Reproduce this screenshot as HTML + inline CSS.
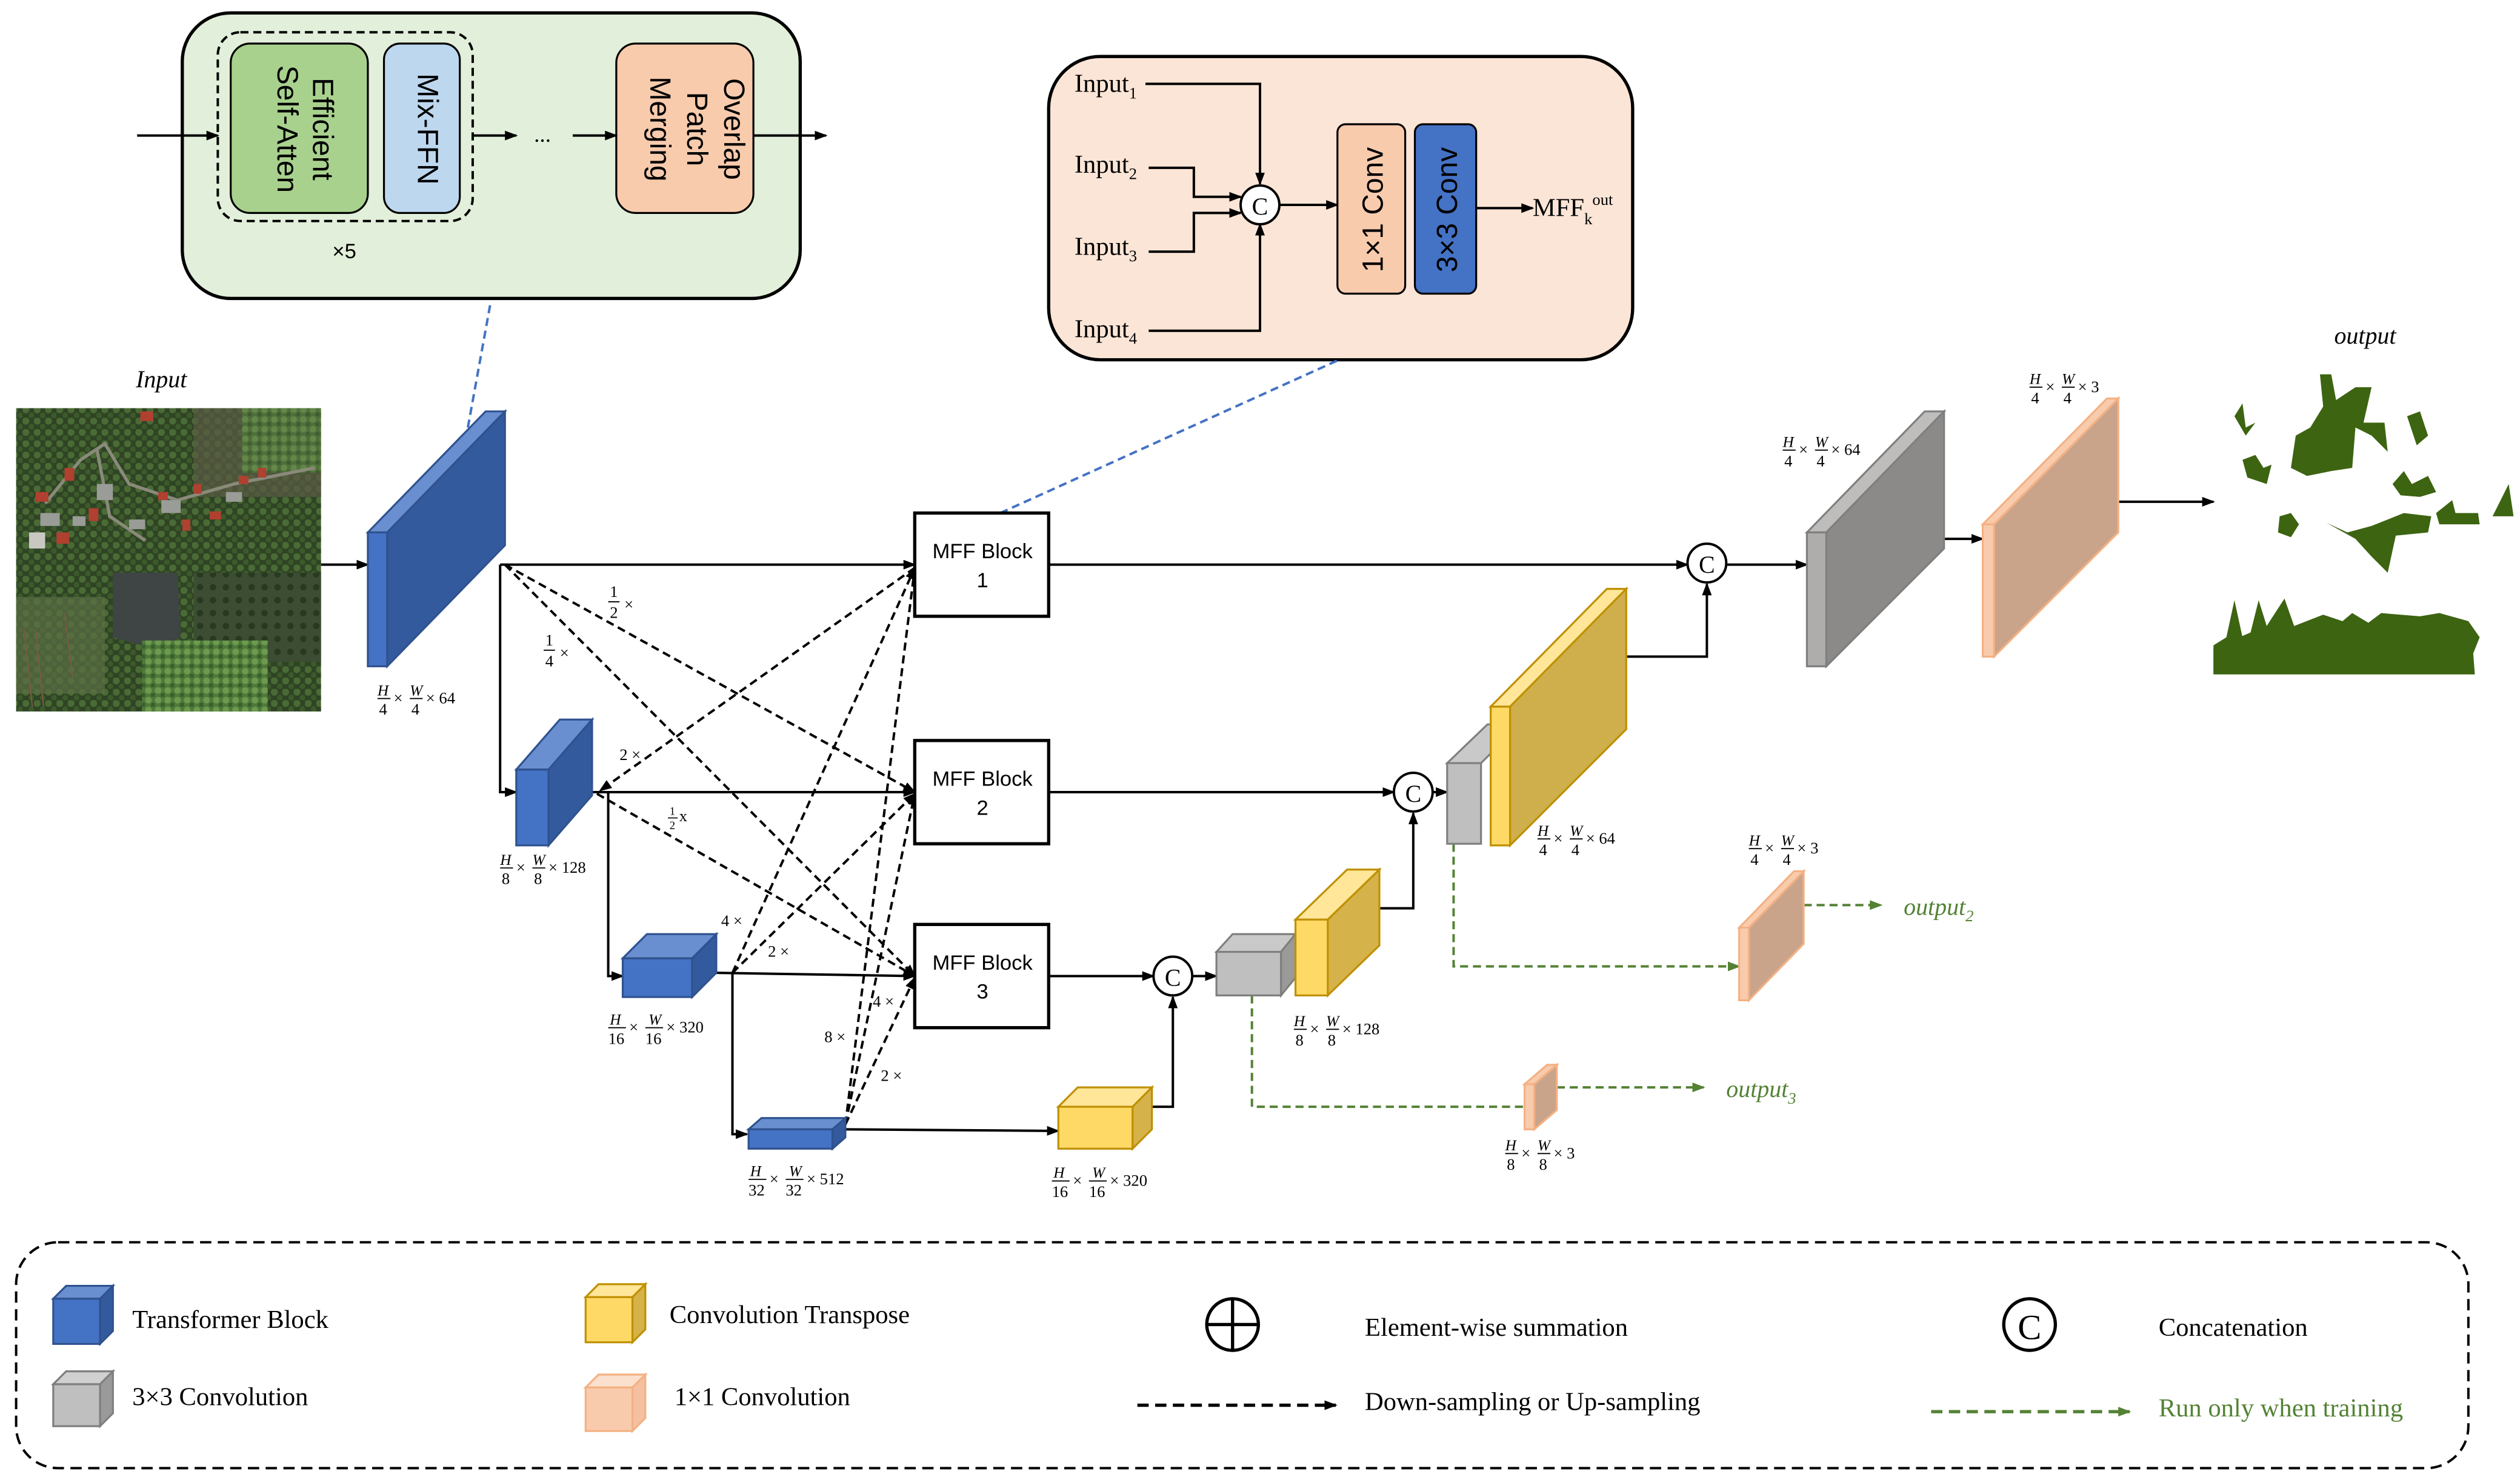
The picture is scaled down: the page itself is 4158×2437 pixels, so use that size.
<!DOCTYPE html>
<html><head><meta charset="utf-8"><style>
html,body{margin:0;padding:0;background:#fff}
svg{display:block}
text{font-family:"Liberation Serif",serif}
.s{font-family:"Liberation Sans",sans-serif}
.f{font-size:9.5px;font-style:italic}
</style></head><body>
<svg width="4158" height="2437" viewBox="0 0 1562 915.5" preserveAspectRatio="none" xmlns="http://www.w3.org/2000/svg">
<defs>
<marker id="a" markerWidth="8" markerHeight="8" refX="7" refY="4" orient="auto" markerUnits="userSpaceOnUse"><path d="M0,1 L8,4 L0,7 z" fill="#000"/></marker>
<marker id="g" markerWidth="8" markerHeight="8" refX="7" refY="4" orient="auto" markerUnits="userSpaceOnUse"><path d="M0,1 L8,4 L0,7 z" fill="#548235"/></marker>
<pattern id="tr" width="7" height="7" patternUnits="userSpaceOnUse"><rect width="7" height="7" fill="#2f4424"/><circle cx="2" cy="2" r="2.2" fill="#4a6b35"/><circle cx="5.5" cy="5.5" r="1.8" fill="#3c5a2b"/></pattern>
<pattern id="tr2" width="6" height="6" patternUnits="userSpaceOnUse"><rect width="6" height="6" fill="#4d7a3a"/><circle cx="2" cy="2" r="2" fill="#6d9a4e"/><circle cx="5" cy="5" r="1.5" fill="#3a5e2a"/></pattern>
<pattern id="or" width="8" height="8" patternUnits="userSpaceOnUse"><rect width="8" height="8" fill="#3c4d33"/><circle cx="4" cy="4" r="2" fill="#27391f"/></pattern>
</defs>

<!-- top Segformer box -->
<rect x="113" y="8" width="383" height="177" rx="30" fill="#e2efda" stroke="#000" stroke-width="2"/>
<rect x="135" y="20" width="158" height="117" rx="14" fill="none" stroke="#000" stroke-width="1.5" stroke-dasharray="5,3"/>
<rect x="143" y="27" width="85" height="105" rx="12" fill="#a9d18e" stroke="#000" stroke-width="1.2"/>
<rect x="238" y="27" width="47" height="105" rx="10" fill="#bdd7ee" stroke="#000" stroke-width="1.2"/>
<rect x="382" y="27" width="85" height="105" rx="12" fill="#f8cbad" stroke="#000" stroke-width="1.2"/>
<g class="s" font-size="18" text-anchor="middle">
<text transform="translate(190,80) rotate(90)" class="s" y="-4">Efficient</text>
<text transform="translate(168,80) rotate(90)" class="s" y="-4">Self-Atten</text>
<text transform="translate(255,80) rotate(90)" class="s" y="-4">Mix-FFN</text>
<text transform="translate(445,80) rotate(90)" class="s" y="-4">Overlap</text>
<text transform="translate(422,80) rotate(90)" class="s" y="-4">Patch</text>
<text transform="translate(399,80) rotate(90)" class="s" y="-4">Merging</text>
</g>
<g stroke="#000" stroke-width="1.5" marker-end="url(#a)">
<line x1="85" y1="84" x2="135" y2="84"/><line x1="293" y1="84" x2="320" y2="84"/><line x1="355" y1="84" x2="382" y2="84"/><line x1="467" y1="84" x2="512" y2="84"/>
</g>
<text x="331" y="88" font-size="14">...</text>
<text x="206" y="160" font-size="13" class="s">×5</text>

<!-- MFF detail box -->
<rect x="650" y="35" width="362" height="188" rx="32" fill="#fbe5d6" stroke="#000" stroke-width="2"/>
<g font-size="16">
<text x="666" y="57">Input<tspan font-size="10" dy="4">1</tspan></text>
<text x="666" y="107">Input<tspan font-size="10" dy="4">2</tspan></text>
<text x="666" y="158">Input<tspan font-size="10" dy="4">3</tspan></text>
<text x="666" y="209">Input<tspan font-size="10" dy="4">4</tspan></text>
<text x="950" y="134">MFF<tspan font-size="10" dy="5">k</tspan><tspan font-size="10" dy="-12">out</tspan></text>
</g>
<g stroke="#000" stroke-width="1.5" fill="none">
<polyline points="710,52 781,52 781,114" marker-end="url(#a)"/>
<polyline points="712,104 740,104 740,122 769,122" marker-end="url(#a)"/>
<polyline points="712,156 740,156 740,132 769,132" marker-end="url(#a)"/>
<polyline points="712,205 781,205 781,139" marker-end="url(#a)"/>
<line x1="793" y1="127" x2="829" y2="127" marker-end="url(#a)"/>
<line x1="915" y1="129" x2="950" y2="129" marker-end="url(#a)"/>
</g>
<circle cx="781" cy="127" r="12" fill="#fff" stroke="#000" stroke-width="1.5"/>
<text x="781" y="133" font-size="15" text-anchor="middle">C</text>
<rect x="829" y="77" width="42" height="105" rx="5" fill="#f8cbad" stroke="#000" stroke-width="1.2"/>
<rect x="877" y="77" width="38" height="105" rx="5" fill="#4472c4" stroke="#000" stroke-width="1.2"/>
<text transform="translate(850,130) rotate(-90)" text-anchor="middle" class="s" font-size="18" y="7">1×1 Conv</text>
<text transform="translate(896,130) rotate(-90)" text-anchor="middle" class="s" font-size="18" y="7">3×3 Conv</text>

<!-- blue dashed links -->
<line x1="290" y1="265" x2="304" y2="188" stroke="#4472c4" stroke-width="1.5" stroke-dasharray="5,3"/>
<line x1="620" y1="318" x2="830" y2="223" stroke="#4472c4" stroke-width="1.5" stroke-dasharray="5,3"/>

<!-- input image -->
<rect x="10" y="253" width="189" height="188" fill="url(#tr)"/>
<rect x="120" y="253" width="79" height="55" fill="#5a5a44" opacity="0.7"/>
<rect x="150" y="253" width="49" height="40" fill="url(#tr2)" opacity="0.7"/>
<rect x="10" y="370" width="55" height="60" fill="#5a6e45" opacity="0.7"/>
<rect x="120" y="355" width="79" height="55" fill="url(#or)"/>
<path d="M70,355 L110,355 L112,395 L95,402 L70,395 Z" fill="#3e4544"/>
<rect x="88" y="397" width="78" height="44" fill="url(#tr2)"/>
<g fill="none" stroke="#8a8a7a" stroke-width="2"><path d="M28,312 L50,285 L65,275 L80,300 L110,310 L145,300 L195,290"/><path d="M60,278 L68,320 L90,335"/></g>
<g fill="#b04030"><rect x="22" y="305" width="8" height="6"/><rect x="40" y="290" width="6" height="8"/><rect x="87" y="255" width="8" height="6"/><rect x="148" y="295" width="6" height="5"/><rect x="130" y="317" width="7" height="5"/><rect x="160" y="290" width="5" height="6"/><rect x="55" y="315" width="6" height="8"/><rect x="35" y="330" width="8" height="7"/><rect x="113" y="322" width="5" height="7"/><rect x="98" y="305" width="6" height="5"/><rect x="120" y="300" width="5" height="6"/></g>
<g fill="#9a9c98"><rect x="25" y="318" width="12" height="8"/><rect x="60" y="300" width="10" height="10"/><rect x="100" y="310" width="12" height="8"/><rect x="140" y="305" width="10" height="6"/><rect x="80" y="322" width="10" height="6"/><rect x="18" y="330" width="10" height="10" fill="#c8c8c0"/><rect x="45" y="320" width="8" height="6"/></g>
<g stroke="#7a5a45" stroke-width="0.8"><line x1="15" y1="390" x2="20" y2="438"/><line x1="22" y1="390" x2="27" y2="438"/><line x1="40" y1="380" x2="45" y2="420"/></g>
<text x="100" y="240" font-size="15" font-style="italic" text-anchor="middle">Input</text>

<!-- output image -->
<g fill="#3d6411">
<path d="M1372,418 L1372,402 L1395,392 L1400,372 L1405,388 L1416,371 L1422,388 L1440,381 L1452,385 L1458,380 L1468,386 L1476,380 L1500,382 L1512,380 L1530,385 L1537,395 L1533,405 L1534,418 Z"/>
<path d="M1438,232 L1445,232 L1448,248 L1460,240 L1470,240 L1465,262 L1478,262 L1480,280 L1470,270 L1460,265 L1458,290 L1445,292 L1430,295 L1420,290 L1423,270 L1432,265 L1440,252 Z"/>
<path d="M1385,258 L1390,250 L1392,265 L1398,262 L1392,270 Z"/>
<path d="M1390,285 L1398,282 L1403,290 L1408,288 L1405,300 L1393,296 Z"/>
<path d="M1483,300 L1490,292 L1495,300 L1505,295 L1510,305 L1500,308 L1488,307 Z"/>
<path d="M1510,318 L1520,310 L1522,318 L1536,318 L1537,325 L1512,325 Z"/>
<path d="M1545,320 L1555,300 L1558,320 Z"/>
<path d="M1413,320 L1420,318 L1425,325 L1420,333 L1412,330 Z"/>
<path d="M1442,324 L1455,330 L1470,326 L1490,318 L1507,320 L1505,330 L1485,332 L1480,355 L1470,345 L1460,334 Z"/>
<path d="M1492,258 L1500,255 L1505,270 L1498,276 Z"/>
<path d="M1372,418 L1372,400 L1380,395 L1385,372 L1390,395 Z"/>
</g>
<text x="1466" y="213" font-size="15" font-style="italic" text-anchor="middle">output</text>

<!-- solid connectors -->
<g stroke="#000" stroke-width="1.5" fill="none">
<line x1="199" y1="350" x2="228" y2="350" marker-end="url(#a)"/>
<line x1="310" y1="350" x2="567" y2="350" marker-end="url(#a)"/>
<polyline points="310,350 310,491 320,491" marker-end="url(#a)"/>
<line x1="367" y1="491" x2="567" y2="491" marker-end="url(#a)"/>
<polyline points="377,491 377,605 386,605" marker-end="url(#a)"/>
<line x1="444" y1="603" x2="567" y2="605" marker-end="url(#a)"/>
<polyline points="454,603 454,703 463,703" marker-end="url(#a)"/>
<line x1="524" y1="700" x2="656" y2="701" marker-end="url(#a)"/>
<line x1="650" y1="350" x2="1046" y2="350" marker-end="url(#a)"/>
<line x1="1070" y1="350" x2="1120" y2="350" marker-end="url(#a)"/>
<polyline points="1008,407 1058,407 1058,362" marker-end="url(#a)"/>
<line x1="650" y1="491" x2="864" y2="491" marker-end="url(#a)"/>
<line x1="888" y1="491" x2="897" y2="491" marker-end="url(#a)"/>
<polyline points="855,563 876,563 876,504" marker-end="url(#a)"/>
<line x1="650" y1="605" x2="715" y2="605" marker-end="url(#a)"/>
<line x1="739" y1="605" x2="754" y2="605" marker-end="url(#a)"/>
<polyline points="714,686 727,686 727,618" marker-end="url(#a)"/>
<line x1="1205" y1="334" x2="1229" y2="334" marker-end="url(#a)"/>
<line x1="1313" y1="311" x2="1372" y2="311" marker-end="url(#a)"/>
</g>

<!-- dashed black -->
<g stroke="#000" stroke-width="1.5" fill="none" stroke-dasharray="5,3" marker-end="url(#a)">
<line x1="313" y1="350" x2="567" y2="491"/>
<line x1="313" y1="350" x2="567" y2="605"/>
<line x1="567" y1="352" x2="372" y2="490"/>
<line x1="370" y1="492" x2="567" y2="605"/>
<line x1="454" y1="603" x2="567" y2="352"/>
<line x1="454" y1="603" x2="567" y2="492"/>
<line x1="524" y1="697" x2="567" y2="352"/>
<line x1="524" y1="697" x2="567" y2="492"/>
<line x1="524" y1="697" x2="567" y2="606"/>
</g>
<g font-size="10">
<text x="378" y="370">1</text><line x1="377" y1="373" x2="384" y2="373" stroke="#000" stroke-width="0.7"/><text x="378" y="383">2</text><text x="387" y="378">×</text>
<text x="338" y="400">1</text><line x1="337" y1="403" x2="344" y2="403" stroke="#000" stroke-width="0.7"/><text x="338" y="413">4</text><text x="347" y="408">×</text>
<text x="384" y="471">2 ×</text>
<text x="415" y="505" font-size="7">1</text><line x1="414" y1="507" x2="420" y2="507" stroke="#000" stroke-width="0.6"/><text x="415" y="514" font-size="7">2</text><text x="421" y="509">x</text>
<text x="447" y="574">4 ×</text>
<text x="476" y="593">2 ×</text>
<text x="541" y="624">4 ×</text>
<text x="511" y="646">8 ×</text>
<text x="546" y="670">2 ×</text>
</g>

<!-- green dashed -->
<g stroke="#548235" stroke-width="1.5" fill="none" stroke-dasharray="5,3">
<polyline points="901,523 901,599 1078,599" marker-end="url(#g)"/>
<line x1="1118" y1="561" x2="1166" y2="561" marker-end="url(#g)"/>
<polyline points="776,617 776,686 945,686"/>
<line x1="965" y1="674" x2="1056" y2="674" marker-end="url(#g)"/>
</g>
<text x="1180" y="567" font-size="15" font-style="italic" fill="#548235">output<tspan font-size="10" dy="4">2</tspan></text>
<text x="1070" y="680" font-size="15" font-style="italic" fill="#548235">output<tspan font-size="10" dy="4">3</tspan></text>

<!-- shapes -->
<g stroke-width="1.2">
<g stroke="#2f528f"><polygon points="228,330 301,255 313,255 240,330" fill="#6a8fd0"/><polygon points="240,330 313,255 313,338 240,413" fill="#345a9e"/><rect x="228" y="330" width="12" height="83" fill="#4472c4"/></g>
<g stroke="#2f528f"><polygon points="320,477 347,446 367,446 340,477" fill="#6a8fd0"/><polygon points="340,477 367,446 367,493 340,524" fill="#345a9e"/><rect x="320" y="477" width="20" height="47" fill="#4472c4"/></g>
<g stroke="#2f528f"><polygon points="386,594 401,579 444,579 429,594" fill="#6a8fd0"/><polygon points="429,594 444,579 444,603 429,618" fill="#345a9e"/><rect x="386" y="594" width="43" height="24" fill="#4472c4"/></g>
<g stroke="#2f528f"><polygon points="464,700 472,693 524,693 516,700" fill="#6a8fd0"/><polygon points="516,700 524,693 524,705 516,712" fill="#345a9e"/><rect x="464" y="700" width="52" height="12" fill="#4472c4"/></g>
<g stroke="#bf9000"><polygon points="656,686 668,674 714,674 702,686" fill="#ffe699"/><polygon points="702,686 714,674 714,700 702,712" fill="#d6b24a"/><rect x="656" y="686" width="46" height="26" fill="#ffd966"/></g>
<g stroke="#7f7f7f"><polygon points="754,590 764,579 803,579 794,590" fill="#c9c9c9"/><polygon points="794,590 803,579 803,606 794,617" fill="#9a9a9a"/><rect x="754" y="590" width="40" height="27" fill="#bfbfbf"/></g>
<g stroke="#bf9000"><polygon points="803,570 835,539 855,539 823,570" fill="#ffe699"/><polygon points="823,570 855,539 855,586 823,617" fill="#d6b24a"/><rect x="803" y="570" width="20" height="47" fill="#ffd966"/></g>
<g stroke="#7f7f7f"><polygon points="897,473 922,449 942,449 918,473" fill="#c9c9c9"/><rect x="897" y="473" width="21" height="50" fill="#bfbfbf"/></g>
<g stroke="#bf9000"><polygon points="924,438 996,365 1008,365 936,438" fill="#ffe699"/><polygon points="936,438 1008,365 1008,452 936,524" fill="#cfae4c"/><rect x="924" y="438" width="12" height="86" fill="#ffd966"/></g>
<g stroke="#7f7f7f"><polygon points="1120,330 1193,255 1205,255 1132,330" fill="#bfbdbb"/><polygon points="1132,330 1205,255 1205,340 1132,413" fill="#8c8a88"/><rect x="1120" y="330" width="12" height="83" fill="#afadab"/></g>
<g stroke="#f4b183"><polygon points="1229,325 1306,247 1313,247 1236,325" fill="#f8cbad"/><polygon points="1236,325 1313,247 1313,330 1236,407" fill="#c9a48b"/><rect x="1229" y="325" width="7" height="82" fill="#f8cbad"/></g>
<g stroke="#f4b183"><polygon points="1078,575 1112,540 1118,540 1084,575" fill="#f8cbad"/><polygon points="1084,575 1118,540 1118,585 1084,620" fill="#c9a48b"/><rect x="1078" y="575" width="6" height="45" fill="#f8cbad"/></g>
<g stroke="#f4b183"><polygon points="945,672 959,660 965,660 951,672" fill="#f8cbad"/><polygon points="951,672 965,660 965,688 951,700" fill="#c9a48b"/><rect x="945" y="672" width="6" height="28" fill="#f8cbad"/></g>
</g>

<!-- MFF blocks -->
<g stroke="#000" stroke-width="2" fill="#fff">
<rect x="567" y="318" width="83" height="64"/><rect x="567" y="459" width="83" height="64"/><rect x="567" y="573" width="83" height="64"/>
</g>
<g class="s" font-size="13" text-anchor="middle">
<text x="609" y="346" class="s">MFF Block</text><text x="609" y="364" class="s">1</text>
<text x="609" y="487" class="s">MFF Block</text><text x="609" y="505" class="s">2</text>
<text x="609" y="601" class="s">MFF Block</text><text x="609" y="619" class="s">3</text>
</g>

<g fill="#fff" stroke="#000" stroke-width="1.5"><circle cx="1058" cy="349" r="12"/><circle cx="876" cy="491" r="12"/><circle cx="727" cy="605" r="12"/></g>
<g font-size="15" text-anchor="middle"><text x="1058" y="355">C</text><text x="876" y="497">C</text><text x="727" y="611">C</text></g>

<!-- dimension labels -->
<g font-size="10">
<g transform="translate(234,433)"><text class="f" x="0" y="-2">H</text><line x1="0" x2="8" stroke="#000" stroke-width="0.7"/><text x="1" y="10">4</text><text x="10" y="3">×</text><text class="f" x="20" y="-2">W</text><line x1="20" x2="28" stroke="#000" stroke-width="0.7"/><text x="21" y="10">4</text><text x="30" y="3">× 64</text></g>
<g transform="translate(310,538)"><text class="f" x="0" y="-2">H</text><line x1="0" x2="8" stroke="#000" stroke-width="0.7"/><text x="1" y="10">8</text><text x="10" y="3">×</text><text class="f" x="20" y="-2">W</text><line x1="20" x2="28" stroke="#000" stroke-width="0.7"/><text x="21" y="10">8</text><text x="30" y="3">× 128</text></g>
<g transform="translate(377,637)"><text class="f" x="1" y="-2">H</text><line x1="0" x2="11" stroke="#000" stroke-width="0.7"/><text x="0" y="10">16</text><text x="13" y="3">×</text><text class="f" x="25" y="-2">W</text><line x1="23" x2="34" stroke="#000" stroke-width="0.7"/><text x="23" y="10">16</text><text x="36" y="3">× 320</text></g>
<g transform="translate(464,731)"><text class="f" x="1" y="-2">H</text><line x1="0" x2="11" stroke="#000" stroke-width="0.7"/><text x="0" y="10">32</text><text x="13" y="3">×</text><text class="f" x="25" y="-2">W</text><line x1="23" x2="34" stroke="#000" stroke-width="0.7"/><text x="23" y="10">32</text><text x="36" y="3">× 512</text></g>
<g transform="translate(652,732)"><text class="f" x="1" y="-2">H</text><line x1="0" x2="11" stroke="#000" stroke-width="0.7"/><text x="0" y="10">16</text><text x="13" y="3">×</text><text class="f" x="25" y="-2">W</text><line x1="23" x2="34" stroke="#000" stroke-width="0.7"/><text x="23" y="10">16</text><text x="36" y="3">× 320</text></g>
<g transform="translate(802,638)"><text class="f" x="0" y="-2">H</text><line x1="0" x2="8" stroke="#000" stroke-width="0.7"/><text x="1" y="10">8</text><text x="10" y="3">×</text><text class="f" x="20" y="-2">W</text><line x1="20" x2="28" stroke="#000" stroke-width="0.7"/><text x="21" y="10">8</text><text x="30" y="3">× 128</text></g>
<g transform="translate(953,520)"><text class="f" x="0" y="-2">H</text><line x1="0" x2="8" stroke="#000" stroke-width="0.7"/><text x="1" y="10">4</text><text x="10" y="3">×</text><text class="f" x="20" y="-2">W</text><line x1="20" x2="28" stroke="#000" stroke-width="0.7"/><text x="21" y="10">4</text><text x="30" y="3">× 64</text></g>
<g transform="translate(1084,526)"><text class="f" x="0" y="-2">H</text><line x1="0" x2="8" stroke="#000" stroke-width="0.7"/><text x="1" y="10">4</text><text x="10" y="3">×</text><text class="f" x="20" y="-2">W</text><line x1="20" x2="28" stroke="#000" stroke-width="0.7"/><text x="21" y="10">4</text><text x="30" y="3">× 3</text></g>
<g transform="translate(933,715)"><text class="f" x="0" y="-2">H</text><line x1="0" x2="8" stroke="#000" stroke-width="0.7"/><text x="1" y="10">8</text><text x="10" y="3">×</text><text class="f" x="20" y="-2">W</text><line x1="20" x2="28" stroke="#000" stroke-width="0.7"/><text x="21" y="10">8</text><text x="30" y="3">× 3</text></g>
<g transform="translate(1105,279)"><text class="f" x="0" y="-2">H</text><line x1="0" x2="8" stroke="#000" stroke-width="0.7"/><text x="1" y="10">4</text><text x="10" y="3">×</text><text class="f" x="20" y="-2">W</text><line x1="20" x2="28" stroke="#000" stroke-width="0.7"/><text x="21" y="10">4</text><text x="30" y="3">× 64</text></g>
<g transform="translate(1258,240)"><text class="f" x="0" y="-2">H</text><line x1="0" x2="8" stroke="#000" stroke-width="0.7"/><text x="1" y="10">4</text><text x="10" y="3">×</text><text class="f" x="20" y="-2">W</text><line x1="20" x2="28" stroke="#000" stroke-width="0.7"/><text x="21" y="10">4</text><text x="30" y="3">× 3</text></g>
</g>

<!-- legend -->
<rect x="10" y="770" width="1520" height="140" rx="26" fill="none" stroke="#000" stroke-width="1.5" stroke-dasharray="7,4"/>
<g stroke-width="1.2">
<g stroke="#2f528f"><polygon points="33,805 41,797 70,797 62,805" fill="#6a8fd0"/><polygon points="62,805 70,797 70,825 62,833" fill="#345a9e"/><rect x="33" y="805" width="29" height="28" fill="#4472c4"/></g>
<g stroke="#7f7f7f"><polygon points="33,858 41,850 70,850 62,858" fill="#d0d0d0"/><polygon points="62,858 70,850 70,876 62,884" fill="#9a9a9a"/><rect x="33" y="858" width="29" height="26" fill="#bfbfbf"/></g>
<g stroke="#bf9000"><polygon points="363,804 371,796 400,796 392,804" fill="#ffe699"/><polygon points="392,804 400,796 400,824 392,832" fill="#d6b24a"/><rect x="363" y="804" width="29" height="28" fill="#ffd966"/></g>
<g stroke="#f4b183"><polygon points="363,860 371,852 400,852 392,860" fill="#fbe0cd"/><polygon points="392,860 400,852 400,879 392,887" fill="#f4c0a0"/><rect x="363" y="860" width="29" height="27" fill="#f8cbad"/></g>
</g>
<g font-size="16">
<text x="82" y="823">Transformer Block</text>
<text x="82" y="871">3×3 Convolution</text>
<text x="415" y="820">Convolution Transpose</text>
<text x="418" y="871">1×1 Convolution</text>
<text x="846" y="828">Element-wise summation</text>
<text x="846" y="874">Down-sampling or Up-sampling</text>
<text x="1338" y="828">Concatenation</text>
<text x="1338" y="878" fill="#548235">Run only when training</text>
</g>
<circle cx="764" cy="821" r="16" fill="none" stroke="#000" stroke-width="2"/>
<line x1="748" y1="821" x2="780" y2="821" stroke="#000" stroke-width="2"/><line x1="764" y1="805" x2="764" y2="837" stroke="#000" stroke-width="2"/>
<circle cx="1258" cy="821" r="16" fill="none" stroke="#000" stroke-width="2"/>
<text x="1258" y="830" font-size="22" text-anchor="middle">C</text>
<line x1="705" y1="871" x2="828" y2="871" stroke="#000" stroke-width="2" stroke-dasharray="7,4" marker-end="url(#a)"/>
<line x1="1197" y1="875" x2="1320" y2="875" stroke="#548235" stroke-width="2" stroke-dasharray="7,4" marker-end="url(#g)"/>
</svg>
</body></html>
